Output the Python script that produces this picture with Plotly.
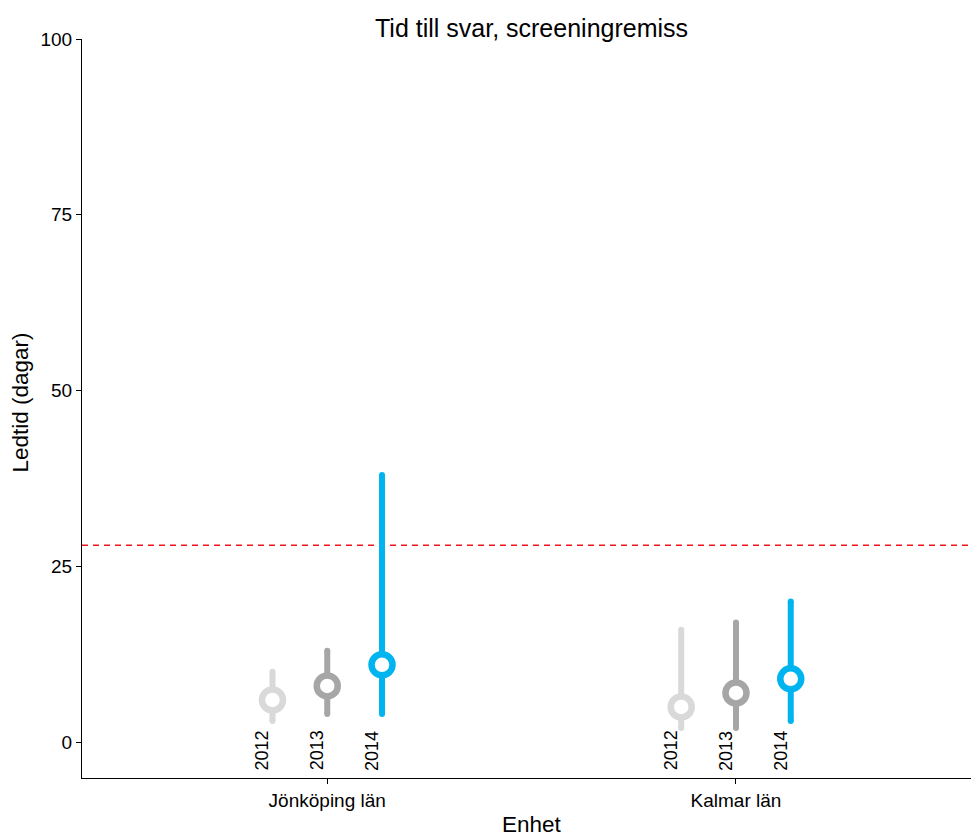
import plotly.graph_objects as go

units = ["Jönköping län", "Kalmar län"]
years = ["2012", "2013", "2014"]
colors = {"2012": "#D9D9D9", "2013": "#A6A6A6", "2014": "#00B4F0"}
median = {"2012": [6, 5], "2013": [8, 7], "2014": [11, 9]}
low = {"2012": [3, 2], "2013": [4, 2], "2014": [4, 3]}
high = {"2012": [10, 16], "2013": [13, 17], "2014": [38, 20]}
target = 28
yticks = [0, 25, 50, 75, 100]

offsets = {"2012": -0.134, "2013": 0.0, "2014": 0.134}
FONT = "Liberation Sans, Arial, sans-serif"

fig = go.Figure()
for yr in years:
    for i, u in enumerate(units):
        x = i + 1 + offsets[yr]
        fig.add_trace(go.Scatter(x=[x, x], y=[low[yr][i], high[yr][i]], mode="lines+markers",
                                 line=dict(color=colors[yr], width=6),
                                 marker=dict(color=colors[yr], size=6, line=dict(width=0)),
                                 showlegend=False, hoverinfo="skip"))
for yr in years:
    xs = [i + 1 + offsets[yr] for i in range(len(units))]
    fig.add_trace(go.Scatter(x=xs, y=median[yr], mode="markers",
                             marker=dict(symbol="circle", size=21, color="white",
                                         line=dict(color=colors[yr], width=6.5)),
                             showlegend=False, name=yr))
    for i in range(len(units)):
        fig.add_annotation(x=xs[i] - 0.026, y=-1.2, text=yr, textangle=-90, showarrow=False,
                           xanchor="center", yanchor="middle",
                           font=dict(family=FONT, size=18, color="black"))

fig.add_shape(type="line", xref="paper", x0=0, x1=1, yref="y", y0=target, y1=target,
              line=dict(color="#F0141C", width=1.3, dash="6px,5px"), layer="below")

fig.add_annotation(text="Tid till svar, screeningremiss", xref="paper", yref="paper",
                   x=0.506, y=1.0 + 11 / 739, showarrow=False, xanchor="center", yanchor="middle",
                   font=dict(family=FONT, size=25, color="black"))
fig.add_annotation(text="Ledtid (dagar)", xref="paper", yref="paper", x=-61 / 889, y=0.508,
                   textangle=-90, showarrow=False, xanchor="center", yanchor="middle",
                   font=dict(family=FONT, size=22.5, color="black"))
fig.add_annotation(text="Enhet", xref="paper", yref="paper", x=0.506, y=-46 / 739,
                   showarrow=False, xanchor="center", yanchor="middle",
                   font=dict(family=FONT, size=22.5, color="black"))

fig.update_layout(
    width=971, height=836,
    margin=dict(l=82, r=0, t=39, b=58),
    plot_bgcolor="white", paper_bgcolor="white",
    font=dict(family=FONT, size=19, color="black"),
    xaxis=dict(range=[0.4, 2.575], tickvals=[1, 2], ticktext=units, showgrid=False,
               zeroline=False, showline=True, linecolor="black", linewidth=1.2,
               ticks="outside", ticklen=5, tickcolor="black", tickfont=dict(size=19)),
    yaxis=dict(range=[-5.1, 100], tickvals=yticks, showgrid=False, zeroline=False,
               showline=True, linecolor="black", linewidth=1.2, ticks="outside",
               ticklen=5, tickcolor="black", tickfont=dict(size=19)),
)

fig.write_html("out.html", config={"displayModeBar": False},
               post_script="document.body.style.margin='0';document.body.style.overflow='hidden';")
